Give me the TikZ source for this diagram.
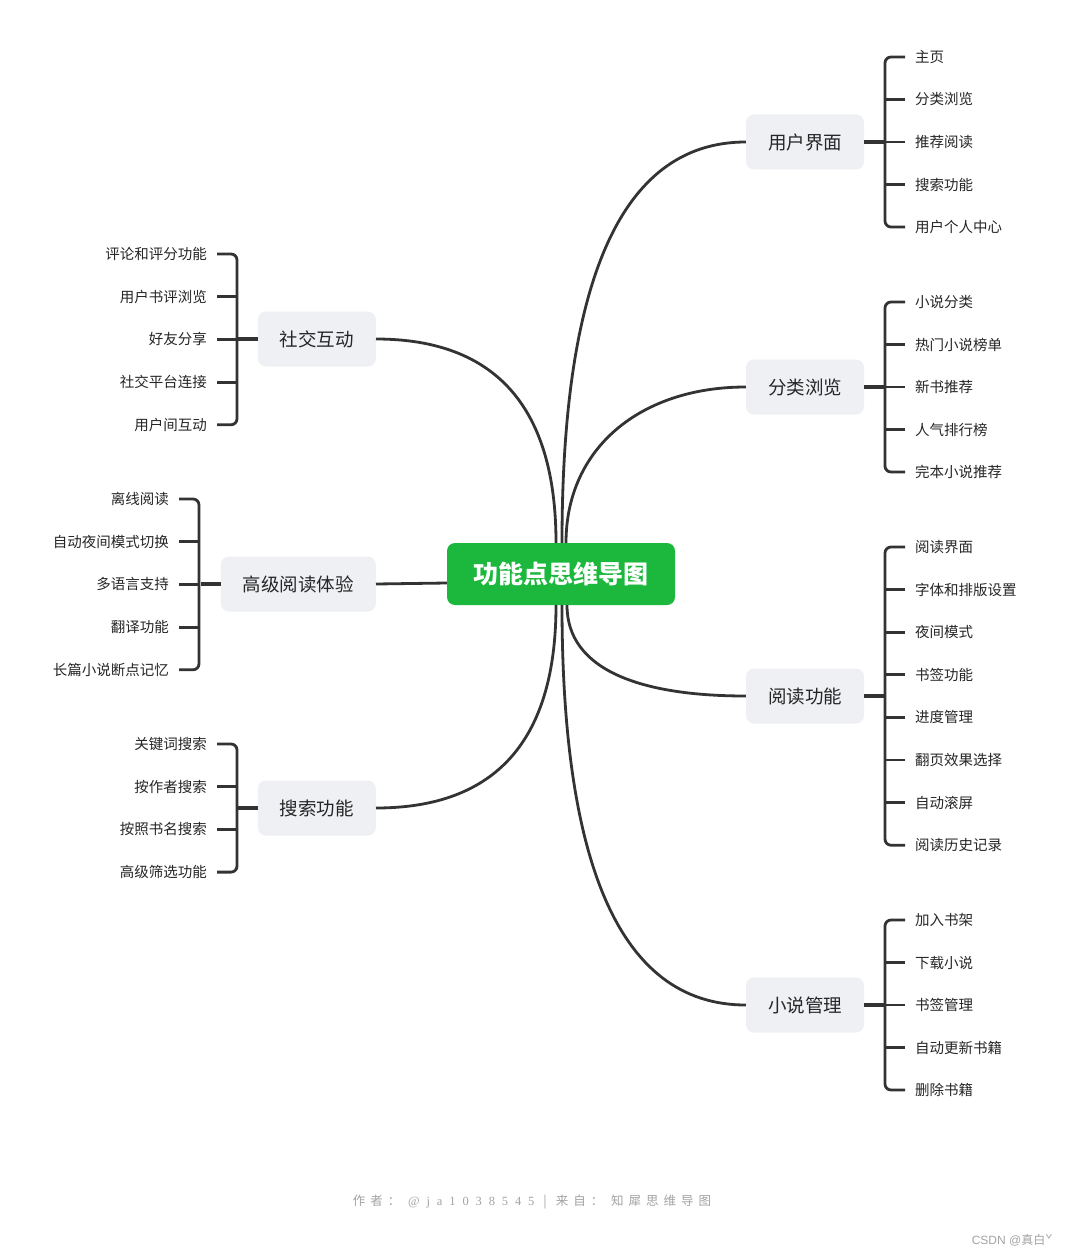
\documentclass[tikz,border=0pt]{standalone}
\usepackage{fontspec}
\setmainfont{Noto Sans CJK SC}
\newfontfamily\footlatin{Liberation Serif}
\newfontfamily\marklatin{Liberation Sans}
\usetikzlibrary{positioning}
\definecolor{Ink}{HTML}{333333}
\definecolor{Leaf}{HTML}{262626}
\definecolor{TopicFill}{HTML}{EFF0F4}
\definecolor{RootGreen}{HTML}{1BB83D}
\definecolor{Faint}{HTML}{A3A3A3}
\tikzset{
  rootbox/.style={fill=RootGreen,text=white,rounded corners=8pt,minimum width=228pt,minimum height=62pt,font=\fontsize{25}{30}\selectfont\bfseries},
  topic/.style={fill=TopicFill,text=Leaf,rounded corners=8pt,minimum height=55pt,inner xsep=22pt,font=\fontsize{18.5}{22}\selectfont},
  leafR/.style={anchor=west,inner sep=0pt,text=Leaf,font=\fontsize{14.5}{17}\selectfont},
  leafL/.style={anchor=east,inner sep=0pt,text=Leaf,font=\fontsize{14.5}{17}\selectfont},
  link/.style={draw=Ink,line width=2.8pt},
  joint/.style={draw=Ink,line width=3.8pt},
  brace/.style={draw=Ink,line width=2.8pt,rounded corners=6pt}
}
\begin{document}
\begin{tikzpicture}[x=1pt,y=-1pt]
  \useasboundingbox[fill=white] (0,0) rectangle (1070,1257);
  % centre and main topics
  \node[rootbox] (root) at (561,574) {功能点思维导图};
  \node[topic] (ui) at (805,142) {用户界面};
  \node[topic] (browse) at (805,387) {分类浏览};
  \node[topic] (read) at (805,696) {阅读功能};
  \node[topic] (manage) at (805,1005) {小说管理};
  \node[topic,anchor=east] (social) at (376,339) {社交互动};
  \node[topic,anchor=east] (adv) at (376,584) {高级阅读体验};
  \node[topic,anchor=east] (search) at (376,808) {搜索功能};
  % curves from the centre
  \draw[link] ([xshift=1pt]root.north) .. controls +(0,-250) and +(-130,0) .. (ui.west);
  \draw[link] ([xshift=5pt]root.north) .. controls +(0,-95) and +(-105,0) .. (browse.west);
  \draw[link] ([xshift=6pt]root.south) .. controls +(0,65) and +(-105,0) .. (read.west);
  \draw[link] ([xshift=1pt]root.south) .. controls +(0,250) and +(-130,0) .. (manage.west);
  \draw[link] ([xshift=-5pt]root.north) .. controls +(0,-135) and +(120,0) .. (social.east);
  \draw[link] ([xshift=-5pt]root.south) .. controls +(0,135) and +(120,0) .. (search.east);
  \draw[link] (adv.east) -- ([yshift=1pt]root.west |- adv.east);
  % right leaves
  \foreach \t [count=\i] in {主页,分类浏览,推荐阅读,搜索功能,用户个人中心}
    \node[leafR] (ui-\i) at (915,{57+42.5*(\i-1)}) {\t};
  \foreach \t [count=\i] in {小说分类,热门小说榜单,新书推荐,人气排行榜,完本小说推荐}
    \node[leafR] (browse-\i) at (915,{302+42.5*(\i-1)}) {\t};
  \foreach \t [count=\i] in {阅读界面,字体和排版设置,夜间模式,书签功能,进度管理,翻页效果选择,自动滚屏,阅读历史记录}
    \node[leafR] (read-\i) at (915,{547+42.6*(\i-1)}) {\t};
  \foreach \t [count=\i] in {加入书架,下载小说,书签管理,自动更新书籍,删除书籍}
    \node[leafR] (manage-\i) at (915,{920+42.5*(\i-1)}) {\t};
  % left leaves
  \foreach \t [count=\i] in {评论和评分功能,用户书评浏览,好友分享,社交平台连接,用户间互动}
    \node[leafL] (social-\i) at (207,{254+42.7*(\i-1)}) {\t};
  \foreach \t [count=\i] in {离线阅读,自动夜间模式切换,多语言支持,翻译功能,长篇小说断点记忆}
    \node[leafL] (adv-\i) at (169,{499+42.7*(\i-1)}) {\t};
  \foreach \t [count=\i] in {关键词搜索,按作者搜索,按照书名搜索,高级筛选功能}
    \node[leafL] (search-\i) at (207,{744+42.7*(\i-1)}) {\t};
  % brackets, right side
  \foreach \g/\n in {ui/5,browse/5,read/8,manage/5}{
    \draw[brace] ([xshift=-10pt]\g-1.west) -- ++(-20,0) |- ([xshift=-10pt]\g-\n.west);
    \foreach \i in {2,...,\numexpr\n-1\relax}
      \draw[link] ([xshift=-10pt]\g-\i.west) -- ++(-20,0);
    \draw[joint] (\g.east) -- ++(21,0);
  }
  % brackets, left side
  \foreach \g/\n in {social/5,adv/5,search/4}{
    \draw[brace] ([xshift=10pt]\g-1.east) -- ++(20,0) |- ([xshift=10pt]\g-\n.east);
    \foreach \i in {2,...,\numexpr\n-1\relax}
      \draw[link] ([xshift=10pt]\g-\i.east) -- ++(20,0);
    \draw[joint] (\g.west) -- ++(-20,0);
  }
  % footer
  \node[text=Faint,font=\fontsize{12.5}{15}\selectfont\addfontfeature{LetterSpace=40}] (credit) at (532,1202)
    {作者：\ {\footlatin\addfontfeature{LetterSpace=55}@ja1038545}\hspace{9pt}|\hspace{9pt}来自：\ 知犀思维导图};
  \node[anchor=east,text=Faint,font=\fontsize{12}{14}\selectfont] (mark) at (1056,1240) {{\marklatin CSDN @}真白ˇ};
\end{tikzpicture}
\end{document}
